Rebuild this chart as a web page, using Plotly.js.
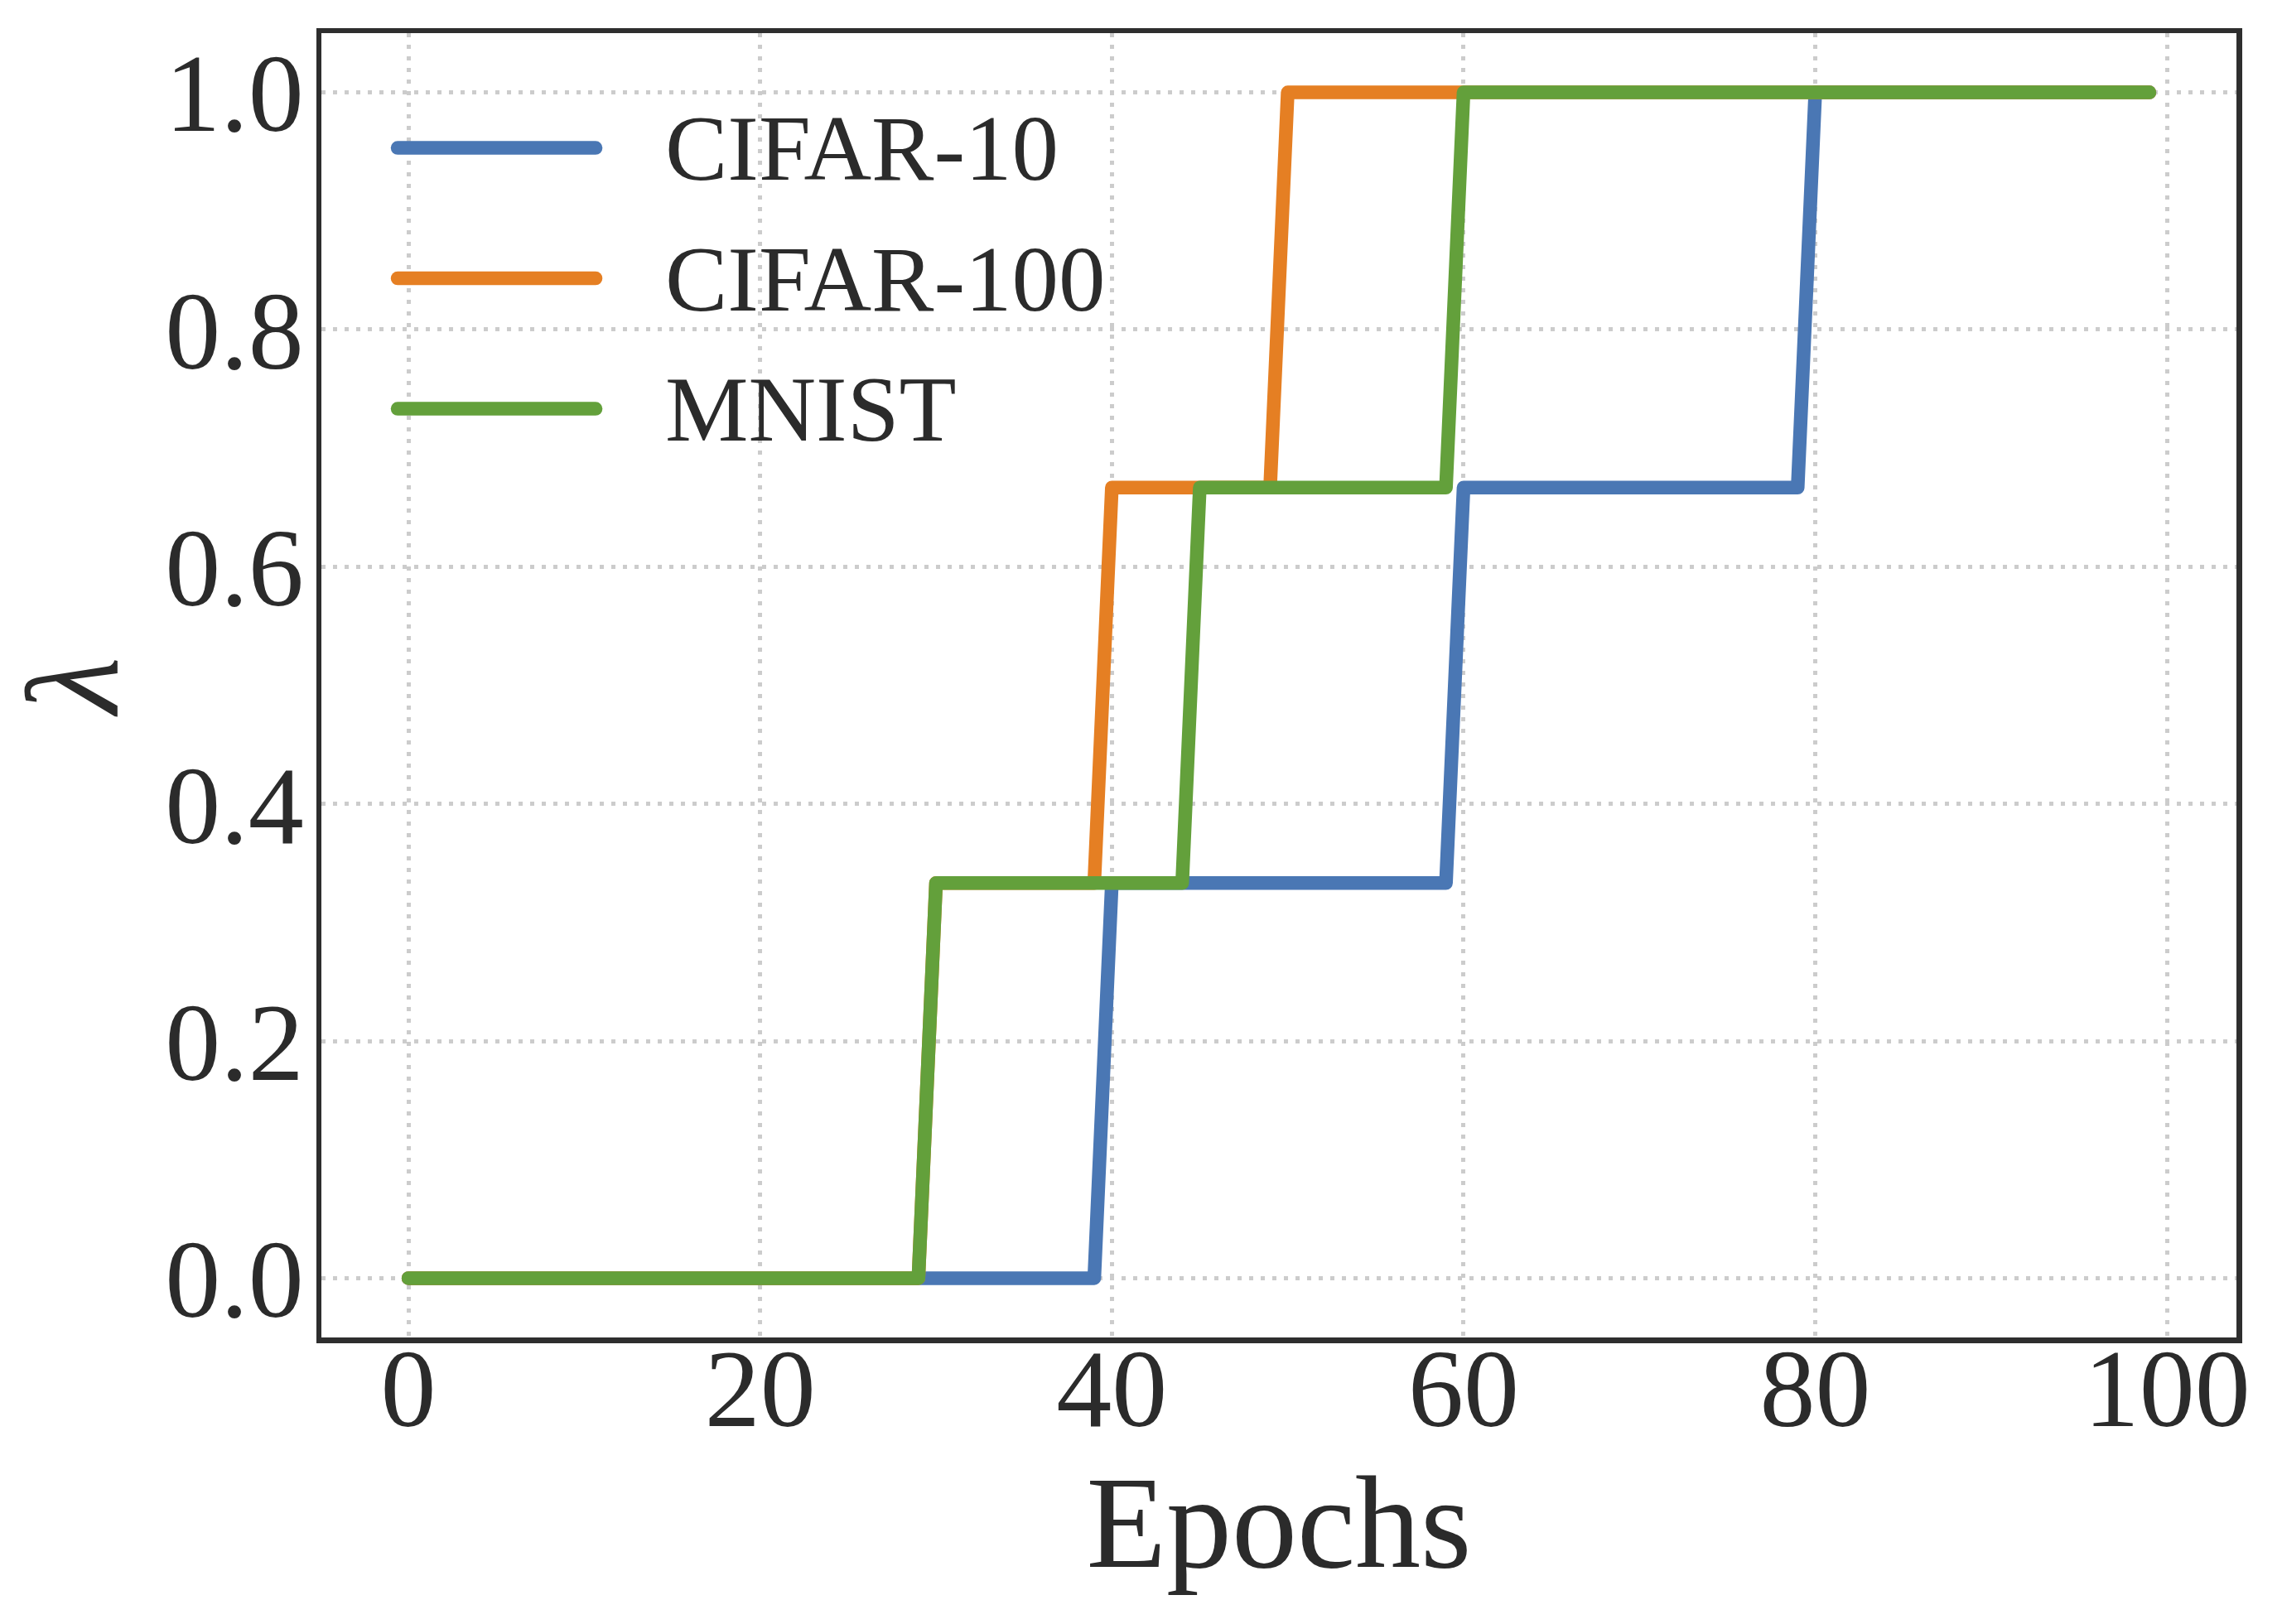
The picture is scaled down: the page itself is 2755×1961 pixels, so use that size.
<!DOCTYPE html>
<html>
<head>
<meta charset="utf-8">
<script src="https://cdn.plot.ly/plotly-3.0.1.min.js"></script>
<style>
  html, body { margin: 0; padding: 0; background: #fff; }
  #chart { width: 2755px; height: 1961px; }
  .scatterlayer path.js-line, .shapelayer path { stroke-linecap: round; stroke-linejoin: round; }
</style>
</head>
<body>
<div id="chart"></div>
<script>
// lambda schedule per dataset, vertices (epoch, lambda)
const NAMES = ['CIFAR-10', 'CIFAR-100', 'MNIST'];
const COLORS = ['#4a77b4', '#e57f23', '#63a03b'];

const cifar10X = [0, 39, 40, 59, 60, 79, 80, 99];
const cifar10Y = [0, 0, 0.3333, 0.3333, 0.6667, 0.6667, 1, 1];

const cifar100X = [0, 29, 30, 39, 40, 49, 50, 99];
const cifar100Y = [0, 0, 0.3333, 0.3333, 0.6667, 0.6667, 1, 1];

const mnistX = [0, 29, 30, 44, 45, 59, 60, 99];
const mnistY = [0, 0, 0.3333, 0.3333, 0.6667, 0.6667, 1, 1];

const xTicks = [0, 20, 40, 60, 80, 100];
const yTicks = [0, 0.2, 0.4, 0.6, 0.8, 1.0];

const SERIES = [[cifar10X, cifar10Y], [cifar100X, cifar100Y], [mnistX, mnistY]];

const FONT = "'Liberation Serif', 'Times New Roman', Times, serif";
const INK = '#2b2b2b';

const traces = SERIES.map((s, i) => ({
  x: s[0], y: s[1], type: 'scatter', mode: 'lines',
  name: NAMES[i],
  line: { color: COLORS[i], width: 16.5 },
  showlegend: false
}));

// hand-drawn legend: long line samples like matplotlib's
const legY = [0.912, 0.812, 0.712];
const shapes = NAMES.map((n, i) => ({
  type: 'line', xref: 'paper', yref: 'paper',
  x0: 0.0398, x1: 0.1432, y0: legY[i], y1: legY[i],
  line: { color: COLORS[i], width: 16.5 }
}));
const annotations = NAMES.map((n, i) => ({
  text: n, xref: 'paper', yref: 'paper',
  x: 0.1786, y: legY[i], xanchor: 'left', yanchor: 'middle',
  showarrow: false,
  font: { family: FONT, size: 113, color: INK }
}));

const axisBase = {
  showline: true, mirror: true, linecolor: '#2e2e2e', linewidth: 6.5,
  showgrid: true, gridcolor: '#cccccc', gridwidth: 5, griddash: '5px,9px',
  zeroline: false, ticks: '',
  tickfont: { family: FONT, size: 134, color: INK }
};

const layout = {
  width: 2755, height: 1961,
  paper_bgcolor: '#ffffff', plot_bgcolor: '#ffffff',
  margin: { l: 388, r: 55, t: 40, b: 346 },
  font: { family: FONT, color: INK },
  xaxis: Object.assign({}, axisBase, {
    range: [-4.95, 103.95], tickvals: xTicks, ticklabelstandoff: -60,
    title: { text: 'Epochs', font: { family: FONT, size: 158, color: INK }, standoff: 28 }
  }),
  yaxis: Object.assign({}, axisBase, {
    range: [-0.05, 1.05], tickvals: yTicks, tickformat: '.1f', ticklabelstandoff: -12,
    title: { text: '<i>λ</i>', font: { family: FONT, size: 158, color: INK }, standoff: 46 }
  }),
  shapes: shapes,
  annotations: annotations,
  showlegend: false
};

Plotly.newPlot('chart', traces, layout, { displayModeBar: false, staticPlot: true });
</script>
</body>
</html>
